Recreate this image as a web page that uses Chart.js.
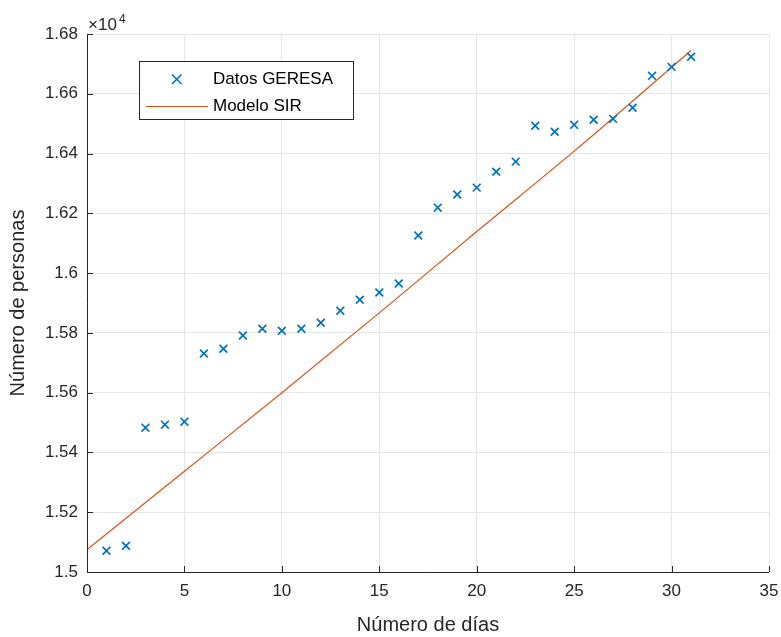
<!DOCTYPE html>
<html>
<head>
<meta charset="utf-8">
<script src="https://cdn.jsdelivr.net/npm/chart.js@4.4.0/dist/chart.umd.min.js"></script>
<style>
  html, body { margin: 0; padding: 0; background: #fff; }
  #wrap { width: 781px; height: 637px; }
</style>
</head>
<body>
<div id="wrap"><canvas id="sirChart" width="781" height="637"></canvas></div>
<script>
// Datos diarios (GERESA) y curva del modelo SIR
const dias = [1, 2, 3, 4, 5, 6, 7, 8, 9, 10, 11, 12, 13, 14, 15, 16,
              17, 18, 19, 20, 21, 22, 23, 24, 25, 26, 27, 28, 29, 30, 31];
const personas = [15071, 15088, 15483, 15493, 15503, 15731, 15747, 15791,
                  15814, 15807, 15814, 15834, 15874, 15911, 15935, 15965,
                  16126, 16219, 16263, 16286, 16339, 16373, 16493, 16473,
                  16496, 16513, 16516, 16553, 16660, 16690, 16724];
const modeloDias = [0, 5, 10, 15, 20, 25, 31];
const modeloSIR = [15075, 15337, 15600, 15867, 16139, 16408, 16745];
const xTicks = [0, 5, 10, 15, 20, 25, 30, 35];
const yTicks = [15000, 15200, 15400, 15600, 15800, 16000, 16200, 16400, 16600, 16800];

const azul = '#0072BD';
const naranja = '#D95319';
const ejeColor = '#262626';
const gridColor = '#e6e6e6';
const fuente = '"Liberation Sans", Arial, sans-serif';

// marcas interiores estilo MATLAB + exponente + leyenda
const extras = {
  id: 'extras',
  afterDraw(chart) {
    const c = chart.ctx;
    const xs = chart.scales.x, ys = chart.scales.y;
    const a = chart.chartArea;
    c.save();
    c.strokeStyle = ejeColor;
    c.lineWidth = 1;
    c.beginPath();
    c.moveTo(a.left + 0.5, a.top);
    c.lineTo(a.left + 0.5, a.bottom + 0.5);
    c.lineTo(a.right, a.bottom + 0.5);
    xTicks.forEach(v => {
      const px = Math.round(xs.getPixelForValue(v)) + 0.5;
      c.moveTo(px, a.bottom);
      c.lineTo(px, a.bottom - 6);
    });
    yTicks.forEach(v => {
      const py = Math.round(ys.getPixelForValue(v)) + 0.5;
      c.moveTo(a.left, py);
      c.lineTo(a.left + 6, py);
    });
    c.stroke();

    // ×10^4
    c.fillStyle = ejeColor;
    c.textBaseline = 'alphabetic';
    c.font = '17px ' + fuente;
    c.fillText('\u00d710', a.left + 1, 30);
    c.font = '12px ' + fuente;
    c.fillText('4', a.left + 32, 23);

    // leyenda
    const lx = 139, ly = 61, lw = 214, lh = 58;
    c.fillStyle = '#fff';
    c.fillRect(lx, ly, lw, lh);
    c.strokeStyle = ejeColor;
    c.lineWidth = 1;
    c.strokeRect(lx + 0.5, ly + 0.5, lw, lh);
    c.strokeStyle = azul;
    c.lineWidth = 1.6;
    c.beginPath();
    c.moveTo(172, 74.5); c.lineTo(181.5, 84);
    c.moveTo(181.5, 74.5); c.lineTo(172, 84);
    c.stroke();
    c.strokeStyle = naranja;
    c.lineWidth = 1;
    c.beginPath();
    c.moveTo(146, 106.5); c.lineTo(208, 106.5);
    c.stroke();
    c.fillStyle = '#000';
    c.font = '17px ' + fuente;
    c.textBaseline = 'middle';
    c.fillText('Datos GERESA', 213, 79);
    c.fillText('Modelo SIR', 213, 106);
    c.restore();
  }
};

const ctx = document.getElementById('sirChart').getContext('2d');
new Chart(ctx, {
  type: 'scatter',
  data: {
    datasets: [
      {
        label: 'Modelo SIR',
        type: 'line',
        data: modeloDias.map((d, i) => ({ x: d, y: modeloSIR[i] })),
        borderColor: naranja,
        borderWidth: 1.2,
        pointRadius: 0,
        cubicInterpolationMode: 'monotone',
        fill: false,
        order: 2
      },
      {
        label: 'Datos GERESA',
        data: dias.map((d, i) => ({ x: d, y: personas[i] })),
        pointStyle: 'crossRot',
        pointRadius: 5.5,
        borderColor: azul,
        backgroundColor: azul,
        pointBorderWidth: 1.7,
        order: 1
      }
    ]
  },
  options: {
    responsive: false,
    animation: false,
    layout: { padding: { top: 34, right: 12, left: 0, bottom: 0 } },
    plugins: {
      legend: { display: false },
      tooltip: { enabled: false }
    },
    scales: {
      x: {
        type: 'linear',
        min: 0,
        max: 35,
        afterBuildTicks: s => { s.ticks = xTicks.map(v => ({ value: v })); },
        grid: { color: gridColor, drawTicks: false },
        border: { display: false },
        ticks: {
          color: ejeColor,
          font: { family: fuente, size: 17 },
          padding: 9,
          maxRotation: 0
        },
        title: {
          display: true,
          text: 'Número de días',
          color: ejeColor,
          font: { family: fuente, size: 20 },
          padding: { top: 4, bottom: 0 }
        },
        afterFit: s => { s.height = 65; s.paddingLeft = 0; s.paddingRight = 0; }
      },
      y: {
        type: 'linear',
        min: 15000,
        max: 16800,
        afterBuildTicks: s => { s.ticks = yTicks.map(v => ({ value: v })); },
        grid: { color: gridColor, drawTicks: false },
        border: { display: false },
        ticks: {
          color: ejeColor,
          font: { family: fuente, size: 17 },
          padding: 9,
          callback: v => String(+(v / 10000).toFixed(2))
        },
        title: {
          display: true,
          text: 'Número de personas',
          color: ejeColor,
          font: { family: fuente, size: 20 },
          padding: { top: 6, bottom: 0 }
        },
        afterFit: s => { s.width = 87; s.paddingTop = 0; s.paddingBottom = 0; }
      }
    }
  },
  plugins: [extras]
});
</script>
</body>
</html>
